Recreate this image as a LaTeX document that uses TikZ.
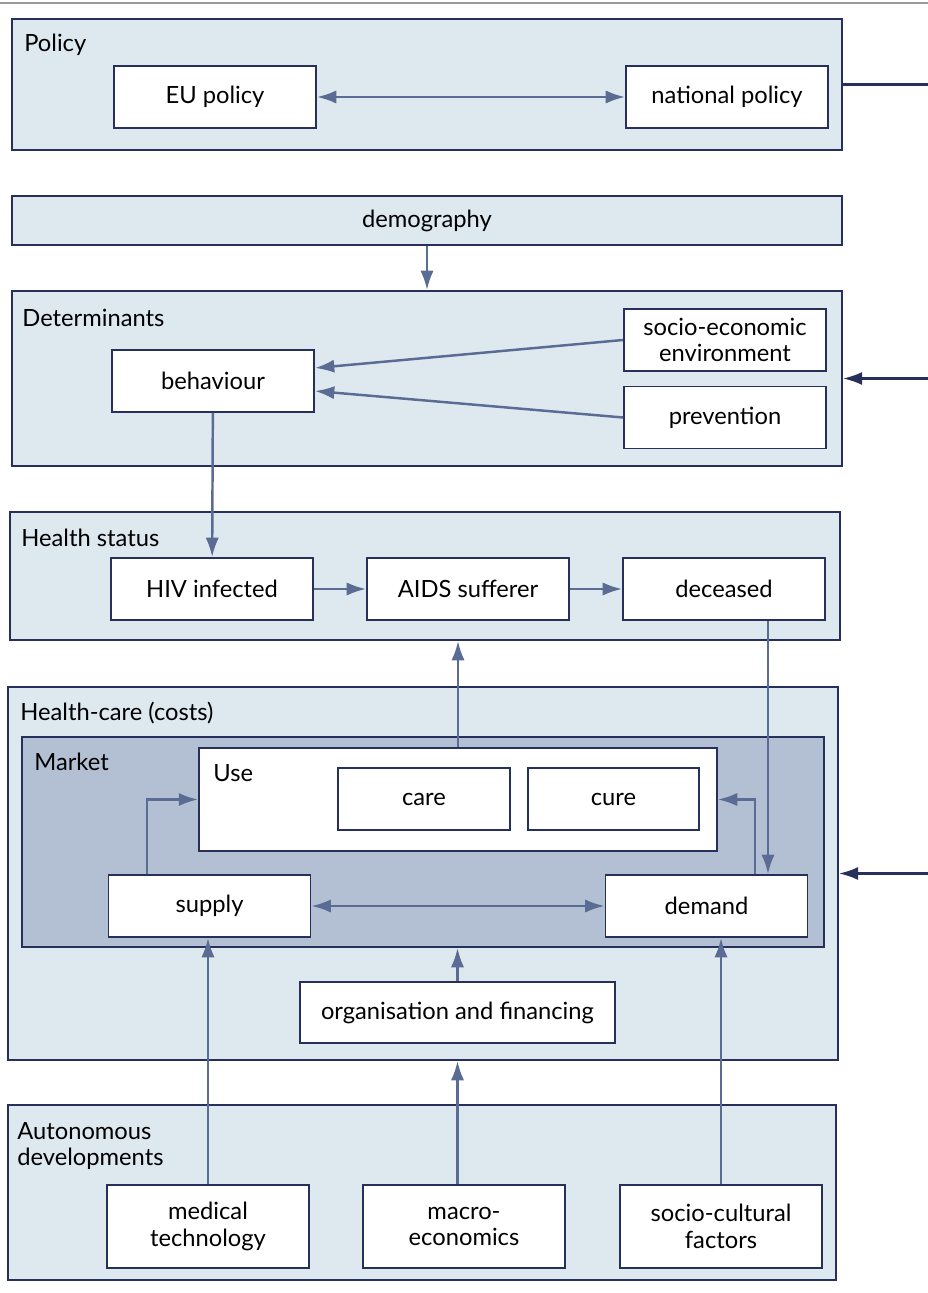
\documentclass[tikz,border=0pt]{standalone}
\usepackage{fontspec}
\setmainfont{Lato}
\usetikzlibrary{arrows.meta,calc}
\definecolor{linec}{HTML}{27305A}
\definecolor{arrowc}{HTML}{5A6B94}
\definecolor{groupc}{HTML}{DDE8EF}
\definecolor{marketc}{HTML}{B3BFD2}
\definecolor{rulec}{HTML}{9A9A9A}

\begin{document}
\begin{tikzpicture}[x=0.02cm,y=-0.02cm,
  font=\fontsize{13.5}{15}\selectfont,
  group box/.style={draw=linec,fill=groupc,line width=1.1pt,inner sep=0pt},
  main node/.style={draw=linec,fill=white,line width=1.1pt,align=center,
    minimum width=4.04cm,minimum height=1.24cm,inner sep=2pt},
  title/.style={anchor=west,align=left,inner sep=0pt},
  link/.style={draw=arrowc,line width=1.4pt,-{Latex[length=11pt,width=7.5pt]}},
  both link/.style={draw=arrowc,line width=1.4pt,{Latex[length=11pt,width=7.5pt]}-{Latex[length=11pt,width=7.5pt]}},
  side link/.style={draw=linec,line width=1.4pt,-{Latex[length=11pt,width=7.5pt]}}]

  \useasboundingbox (0,0) rectangle (928,1293);
  \draw[rulec,line width=0.8pt] (0,3) -- (928,3);

  \node[group box,minimum width=16.6cm,minimum height=2.62cm] (policy) at (427,84.5) {};
  \node[group box,minimum width=16.6cm,minimum height=0.98cm] (demog) at (427,220.5) {demography};
  \node[group box,minimum width=16.6cm,minimum height=3.5cm] (determ) at (427,378.5) {};
  \node[group box,minimum width=16.6cm,minimum height=2.56cm] (health) at (425,576) {};
  \node[group box,minimum width=16.6cm,minimum height=7.46cm] (caregrp) at (423,873.5) {};
  \node[group box,fill=marketc,minimum width=16.04cm,minimum height=4.2cm] (market) at (423,842) {};
  \node[group box,fill=white,minimum width=10.36cm,minimum height=2.06cm] (use) at (458,799.5) {};
  \node[group box,minimum width=16.56cm,minimum height=3.5cm] (auto) at (422,1192.5) {};

  \node[title] (t policy) at (24,45) {Policy};
  \node[title] (t determ) at (22,318) {Determinants};
  \node[title] (t health) at (21,538) {Health status};
  \node[title] (t care) at (20,713) {Health-care (costs)};
  \node[title] (t market) at (34,762) {Market};
  \node[title] (t use) at (213,773) {Use};
  \node[title] (t auto) at (17,1146) {Autonomous\\developments};

  \node[main node] (eu) at (215,97) {EU policy};
  \node[main node] (natp) at (727,97) {national policy};
  \node[main node] (behav) at (213,381) {behaviour};
  \node[main node] (socio) at (725,340) {socio-economic\\environment};
  \node[main node] (prev) at (725,417.5) {prevention};
  \node[main node] (hiv) at (212,589) {HIV infected};
  \node[main node] (aids) at (468,589) {AIDS sufferer};
  \node[main node] (dec) at (724,589) {deceased};
  \node[main node,minimum width=3.44cm] (care) at (424,799) {care};
  \node[main node,minimum width=3.42cm] (cure) at (613.5,799) {cure};
  \node[main node] (supply) at (209.5,906) {supply};
  \node[main node] (demand) at (706.5,906) {demand};
  \node[main node,minimum width=6.3cm,minimum height=1.22cm] (org) at (457.5,1012.5) {organisation and financing};
  \node[main node,minimum height=1.66cm] (medt) at (208,1226.5) {medical\\technology};
  \node[main node,minimum height=1.66cm] (macro) at (464,1226.5) {macro-\\economics};
  \node[main node,minimum height=1.66cm] (socult) at (721,1226.5) {socio-cultural\\factors};

  \coordinate (rail) at (928,0);
  \coordinate (sup up) at (147,0);
  \coordinate (dem up) at (755,0);
  \coordinate (dec down) at (768,0);

  \draw[both link] (eu) -- (natp);
  \draw[both link] (supply) -- (demand);

  \draw[link] (demog) -- (determ);
  \draw[link] (socio.west) -- ($(behav.east)+(0,-13)$);
  \draw[link] (prev.west) -- ($(behav.east)+(0,10)$);
  \draw[link] (behav) -- (hiv);
  \draw[link] (hiv) -- (aids);
  \draw[link] (aids) -- (dec);
  \draw[link] (use.north) -- (use.north |- health.south);
  \draw[link] (dec.south -| dec down) -- (demand.north -| dec down);
  \draw[link] (supply.north -| sup up) |- (use.west);
  \draw[link] (demand.north -| dem up) |- (use.east);
  \draw[link] (org) -- (org |- market.south);
  \draw[link] (medt) -- (medt |- supply.south);
  \draw[link] (macro.north -| org) -- (org |- caregrp.south);
  \draw[link] (socult) -- (socult |- demand.south);

  \draw[linec,line width=1.4pt] (policy.east) -- (policy.east -| rail);
  \draw[side link] (rail |- determ.east) -- (determ.east);
  \draw[side link] (rail |- caregrp.east) -- (caregrp.east);

\end{tikzpicture}
\end{document}
